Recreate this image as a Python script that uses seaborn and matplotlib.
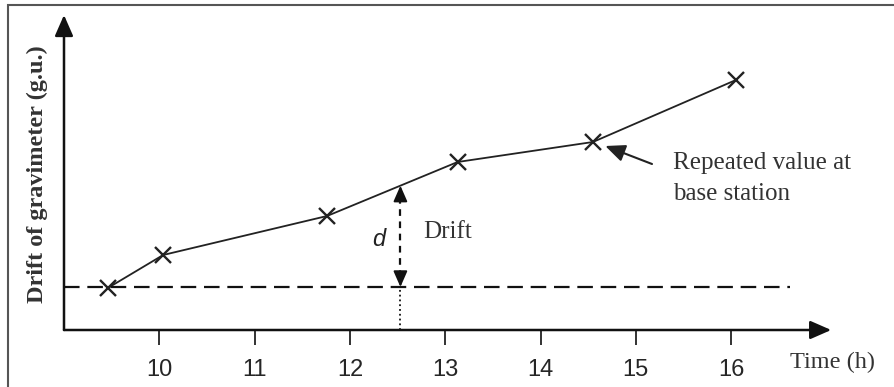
import numpy as np
import pandas as pd
import matplotlib
matplotlib.use("Agg")
import matplotlib.pyplot as plt
import seaborn as sns
from matplotlib.patches import Rectangle

# Readings at the base station (time in hours, drift in arbitrary g.u.)
time_h = [9.46, 10.04, 11.76, 13.13, 14.55, 16.05]
drift = [0.84, 1.50, 2.28, 3.36, 3.76, 5.00]
x_ticks = [10, 11, 12, 13, 14, 15, 16]
base_level = 0.86
drift_time = 12.53

df = pd.DataFrame({"Time": time_h, "Drift": drift})

sns.set_style("white")
plt.rcParams["font.family"] = ["Liberation Serif", "DejaVu Serif"]

fig = plt.figure(figsize=(8.94, 3.87), dpi=100)
ax = fig.add_axes([64 / 894, 57 / 387, 791 / 894, 320 / 387])

# main drift curve
sns.lineplot(data=df, x="Time", y="Drift", ax=ax, color="#222222", lw=1.3,
             marker="x", markersize=12, markeredgewidth=1.7,
             markeredgecolor="#222222", sort=False)

ax.set_xlim(9, 17.3)
ax.set_ylim(0, 6.4)
for s in ax.spines.values():
    s.set_visible(False)
ax.set_xticks(x_ticks)
ax.set_xticklabels([str(t) for t in x_ticks], fontfamily="Liberation Sans", fontsize=17)
ax.set_yticks([])
ax.tick_params(axis="x", direction="out", length=11, width=1.3, color="#222222",
               pad=10, bottom=True)
ax.set_xlabel("")
ax.set_ylabel("")

# axes drawn as arrows
arrow = dict(arrowstyle="-|>,head_length=0.8,head_width=0.35", mutation_scale=16,
             lw=1.8, color="#111111", shrinkA=0, shrinkB=0)
ax.annotate("", xy=(17.05, 0), xytext=(9, 0), arrowprops=arrow, annotation_clip=False)
ax.annotate("", xy=(9, 6.3), xytext=(9, 0), arrowprops=arrow, annotation_clip=False)

# base level line
ax.plot([9, 16.62], [base_level, base_level], color="#111111", lw=1.6,
        dashes=(7, 3.5), clip_on=False)

# drift arrow
top = np.interp(drift_time, time_h, drift)
ax.plot([drift_time, drift_time], [base_level + 0.2, top - 0.2], color="#111111",
        lw=1.6, dashes=(3, 2.5))
head = dict(arrowstyle="-|>,head_length=0.8,head_width=0.35", mutation_scale=12,
            lw=1.4, color="#111111", shrinkA=0, shrinkB=0)
ax.annotate("", xy=(drift_time, top), xytext=(drift_time, top - 0.3), arrowprops=head)
ax.annotate("", xy=(drift_time, base_level), xytext=(drift_time, base_level + 0.3),
            arrowprops=head)
ax.plot([drift_time, drift_time], [0, base_level], color="#111111", lw=1.3,
        linestyle=":")

ax.text(12.30, 1.80, "d", fontfamily="Liberation Sans", style="italic", fontsize=17,
        ha="center", va="center", color="#222222")
ax.text(12.77, 1.96, "Drift", fontsize=18, ha="left", va="center", color="#333333")

# repeated value label
ax.annotate("", xy=(14.68, 3.68), xytext=(15.17, 3.32),
            arrowprops=dict(arrowstyle="-|>,head_length=0.8,head_width=0.35",
                            mutation_scale=15, lw=1.5, color="#222222",
                            shrinkA=0, shrinkB=0))
ax.text(15.39, 3.03, "Repeated value at\nbase station", fontsize=18, ha="left",
        va="center", linespacing=1.5, color="#333333")

ax.text(16.62, -0.64, "Time (h)", fontsize=17.5, ha="left", va="center",
        color="#333333", clip_on=False)
fig.text(37 / 894, 1 - 174 / 387, "Drift of gravimeter (g.u.)", rotation=90,
         fontsize=17.5, fontweight="bold", ha="center", va="center", color="#333333")

# outer frame of the figure scan
fig.add_artist(Rectangle((8 / 894, -0.2), 2, 1.2 - 5 / 387, transform=fig.transFigure,
                         fill=False, edgecolor="#555555", lw=1.5))

fig.savefig("out.png", dpi=100)
